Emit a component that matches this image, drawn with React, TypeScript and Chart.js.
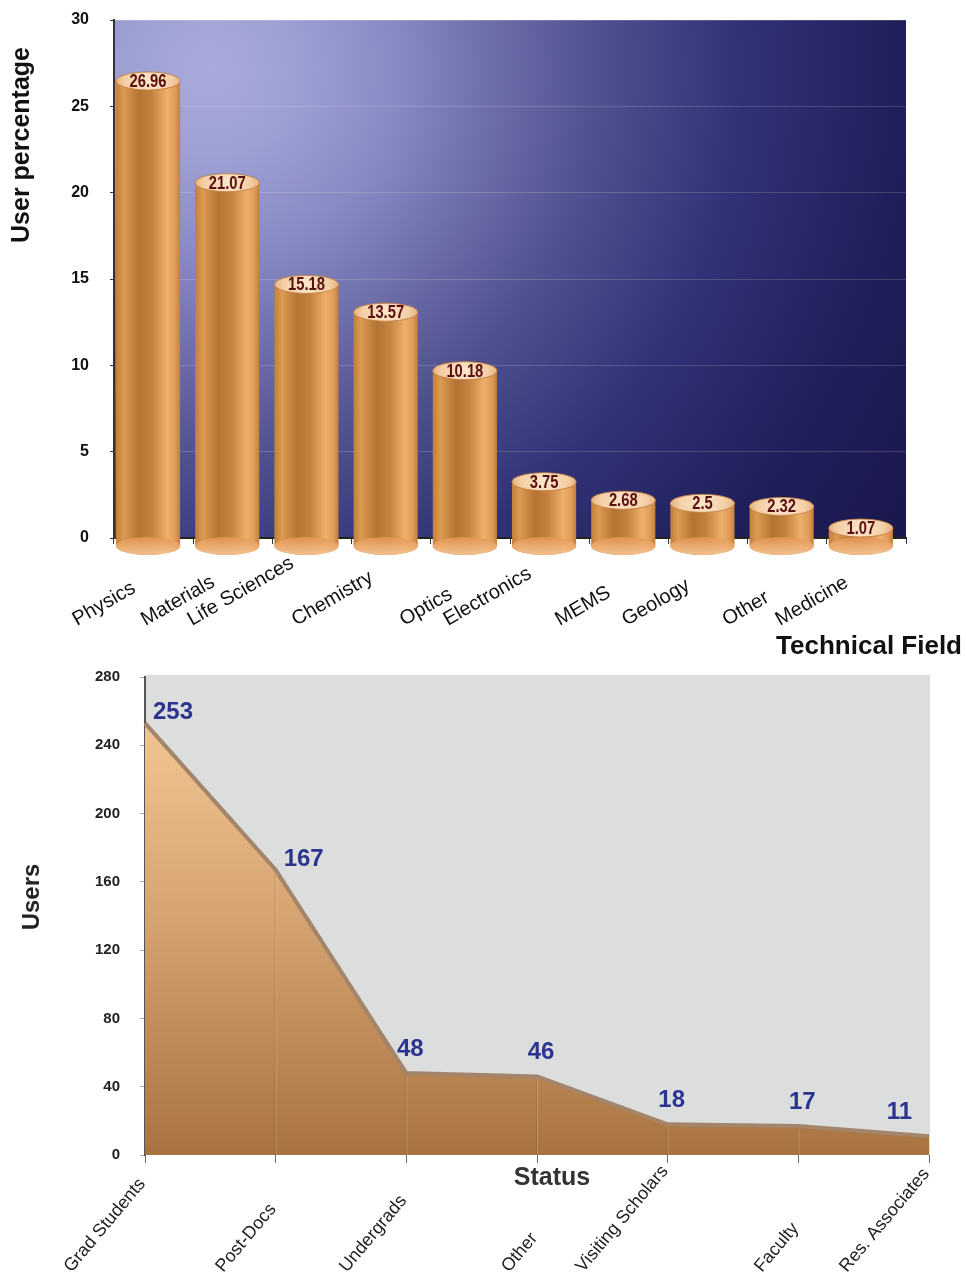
import React, { useEffect, useRef } from 'react';
import { Chart, registerables } from 'chart.js';

Chart.register(...registerables);

const FONT = '"Liberation Sans", Arial, Helvetica, sans-serif';

// ---- Top chart data ----
const fields = ['Physics', 'Materials', 'Life Sciences', 'Chemistry', 'Optics', 'Electronics', 'MEMS', 'Geology', 'Other', 'Medicine'];
const fieldPercent = [26.96, 21.07, 15.18, 13.57, 10.18, 3.75, 2.68, 2.5, 2.32, 1.07];
const percentTicks = [0, 5, 10, 15, 20, 25, 30];

// ---- Bottom chart data ----
const statuses = ['Grad Students', 'Post-Docs', 'Undergrads', 'Other', 'Visiting Scholars', 'Faculty', 'Res. Associates'];
const statusUsers = [253, 167, 48, 46, 18, 17, 11];
const userTicks = [0, 40, 80, 120, 160, 200, 240, 280];

const BAR_PCT = 0.81;

const topBgPlugin = {
  id: 'topBg',
  beforeDraw(chart: any) {
    const { ctx, chartArea } = chart;
    if (!chartArea) return;
    const { left, top, right, bottom } = chartArea;
    ctx.save();
    const g = ctx.createRadialGradient(left + 96, top + 50, 0, left + 96, top + 50, 860);
    g.addColorStop(0, '#a8abda');
    g.addColorStop(0.1, '#9da0d3');
    g.addColorStop(0.22, '#8789c3');
    g.addColorStop(0.45, '#50518f');
    g.addColorStop(0.62, '#313276');
    g.addColorStop(0.8, '#211f5b');
    g.addColorStop(1, '#19164a');
    ctx.fillStyle = g;
    ctx.fillRect(left, top, right - left, bottom - top);
    ctx.restore();
  },
};

const cylinderPlugin = {
  id: 'cylinders',
  afterDatasetsDraw(chart: any) {
    const { ctx } = chart;
    const meta = chart.getDatasetMeta(0);
    ctx.save();
    meta.data.forEach((el: any, i: number) => {
      const { x, y, base, width } = el.getProps(['x', 'y', 'base', 'width'], true);
      const slot = width / BAR_PCT;
      const cx = x - slot * 0.07;
      const w = width;
      const l = cx - w / 2;
      const r = cx + w / 2;
      const ry = 9;
      const topC = y + ry - 0.5;
      const botC = base + ry - 0.5;

      // body
      const g = ctx.createLinearGradient(l, 0, r, 0);
      g.addColorStop(0, '#c27e3a');
      g.addColorStop(0.12, '#dc9a52');
      g.addColorStop(0.36, '#b47433');
      g.addColorStop(0.56, '#c4823e');
      g.addColorStop(0.8, '#eeb06c');
      g.addColorStop(0.92, '#e09c58');
      g.addColorStop(1, '#c27e3b');
      ctx.fillStyle = g;
      ctx.beginPath();
      ctx.moveTo(l, topC);
      ctx.lineTo(l, botC);
      ctx.ellipse(cx, botC, w / 2, ry, 0, Math.PI, 0, true);
      ctx.lineTo(r, topC);
      ctx.closePath();
      ctx.fill();

      // bottom ellipse (lighter)
      const gb = ctx.createLinearGradient(0, botC - ry, 0, botC + ry);
      gb.addColorStop(0, 'rgba(228,150,82,0.85)');
      gb.addColorStop(1, 'rgba(246,196,146,0.95)');
      ctx.fillStyle = gb;
      ctx.beginPath();
      ctx.ellipse(cx, botC, w / 2, ry, 0, 0, Math.PI * 2);
      ctx.fill();

      // top ellipse
      const gt = ctx.createRadialGradient(cx, topC, 2, cx, topC, w / 2);
      gt.addColorStop(0, '#fbe4c8');
      gt.addColorStop(0.7, '#f3cfa6');
      gt.addColorStop(1, '#e6b482');
      ctx.fillStyle = gt;
      ctx.beginPath();
      ctx.ellipse(cx, topC, w / 2, ry, 0, 0, Math.PI * 2);
      ctx.fill();
      ctx.strokeStyle = 'rgba(196,128,66,0.9)';
      ctx.lineWidth = 1;
      ctx.stroke();

      // value label (condensed look)
      ctx.save();
      ctx.translate(cx, topC + 1);
      ctx.scale(0.82, 1);
      ctx.fillStyle = '#5a0f0f';
      ctx.font = `bold 18px ${FONT}`;
      ctx.textAlign = 'center';
      ctx.textBaseline = 'middle';
      ctx.fillText(String(fieldPercent[i]), 0, 0);
      ctx.restore();
    });
    ctx.restore();
  },
};

const topTextPlugin = {
  id: 'topText',
  afterDraw(chart: any) {
    const { ctx } = chart;
    const xs = chart.scales.x;
    const ang = Math.PI / 6;
    ctx.save();
    // category labels: start points share a common baseline
    ctx.font = `20px ${FONT}`;
    ctx.fillStyle = '#111';
    ctx.textAlign = 'left';
    ctx.textBaseline = 'alphabetic';
    fields.forEach((lab, i) => {
      const endX = xs.getPixelForTick(i) - 17;
      const wTxt = ctx.measureText(lab).width;
      const sx = endX - wTxt * Math.cos(ang);
      ctx.save();
      ctx.translate(sx, 626);
      ctx.rotate(-ang);
      ctx.fillText(lab, 0, 0);
      ctx.restore();
    });
    // y title
    ctx.save();
    ctx.translate(22, 145);
    ctx.rotate(-Math.PI / 2);
    ctx.font = `bold 25px ${FONT}`;
    ctx.textAlign = 'center';
    ctx.textBaseline = 'middle';
    ctx.fillStyle = '#111';
    ctx.fillText('User percentage', 0, 0);
    ctx.restore();
    // x title
    ctx.font = `bold 26px ${FONT}`;
    ctx.textAlign = 'right';
    ctx.textBaseline = 'middle';
    ctx.fillStyle = '#111';
    ctx.fillText('Technical Field', 962, 647);
    ctx.restore();
  },
};

const bottomBgPlugin = {
  id: 'bottomBg',
  beforeDraw(chart: any) {
    const { ctx, chartArea } = chart;
    if (!chartArea) return;
    const { left, top, right, bottom } = chartArea;
    ctx.save();
    ctx.fillStyle = '#dcdddd';
    ctx.fillRect(left, top - 2, right - left + 1, bottom - top + 2);
    ctx.restore();
  },
};

const bottomOverlayPlugin = {
  id: 'bottomOverlay',
  afterDatasetsDraw(chart: any) {
    const { ctx, chartArea } = chart;
    const meta = chart.getDatasetMeta(0);
    const n = meta.data.length;
    ctx.save();
    // separators inside the fill
    meta.data.forEach((pt: any, i: number) => {
      if (i === 0 || i === n - 1) return;
      ctx.lineWidth = 1;
      ctx.strokeStyle = 'rgba(120,78,36,0.25)';
      ctx.beginPath();
      ctx.moveTo(pt.x - 0.5, pt.y + 3);
      ctx.lineTo(pt.x - 0.5, chartArea.bottom);
      ctx.stroke();
      ctx.strokeStyle = 'rgba(255,228,196,0.25)';
      ctx.beginPath();
      ctx.moveTo(pt.x + 0.5, pt.y + 3);
      ctx.lineTo(pt.x + 0.5, chartArea.bottom);
      ctx.stroke();
    });
    // value labels
    ctx.fillStyle = '#2b3590';
    ctx.font = `bold 24px ${FONT}`;
    ctx.textBaseline = 'middle';
    meta.data.forEach((pt: any, i: number) => {
      if (i < 2) {
        ctx.textAlign = 'left';
        ctx.fillText(String(statusUsers[i]), pt.x + 8, pt.y - 11);
      } else if (i === n - 1) {
        ctx.textAlign = 'right';
        ctx.fillText(String(statusUsers[i]), pt.x - 17, pt.y - 24);
      } else {
        ctx.textAlign = 'center';
        ctx.fillText(String(statusUsers[i]), pt.x + 4, pt.y - 24);
      }
    });
    ctx.restore();
  },
  afterDraw(chart: any) {
    const { ctx } = chart;
    const xs = chart.scales.x;
    const ang = (50 * Math.PI) / 180;
    ctx.save();
    // category labels, bottom-aligned starts
    ctx.font = `18px ${FONT}`;
    ctx.fillStyle = '#222';
    ctx.textAlign = 'left';
    ctx.textBaseline = 'alphabetic';
    statuses.forEach((lab, i) => {
      const endX = xs.getPixelForTick(i) + 1;
      const wTxt = ctx.measureText(lab).width;
      const sx = endX - wTxt * Math.cos(ang);
      ctx.save();
      ctx.translate(sx, 613);
      ctx.rotate(-ang);
      ctx.fillText(lab, 0, 0);
      ctx.restore();
    });
    ctx.restore();

    ctx.save();
    ctx.translate(32, 237);
    ctx.rotate(-Math.PI / 2);
    ctx.font = `bold 24px ${FONT}`;
    ctx.textAlign = 'center';
    ctx.textBaseline = 'middle';
    ctx.fillStyle = '#222';
    ctx.fillText('Users', 0, 0);
    ctx.restore();
    ctx.save();
    ctx.font = `bold 25px ${FONT}`;
    ctx.textAlign = 'center';
    ctx.textBaseline = 'middle';
    ctx.fillStyle = '#333';
    ctx.fillText('Status', 552, 518);
    ctx.restore();
  },
};

function TopChart() {
  const ref = useRef<HTMLCanvasElement>(null);
  useEffect(() => {
    if (!ref.current) return;
    const chart = new Chart(ref.current, {
      type: 'bar',
      data: {
        labels: fields,
        datasets: [
          {
            data: fieldPercent,
            backgroundColor: 'rgba(0,0,0,0)',
            borderWidth: 0,
            barPercentage: BAR_PCT,
            categoryPercentage: 1,
          },
        ],
      },
      options: {
        responsive: false,
        animation: false,
        devicePixelRatio: 1,
        layout: { padding: { top: 20, right: 60, left: 0, bottom: 0 } },
        plugins: { legend: { display: false }, tooltip: { enabled: false }, title: { display: false } },
        scales: {
          x: {
            ticks: { display: false },
            grid: { offset: true, drawOnChartArea: false, tickLength: 6, tickColor: '#333', lineWidth: 1 },
            border: { color: '#222', width: 2 },
            afterFit: (s: any) => {
              s.height = 122;
            },
          },
          y: {
            min: 0,
            max: 30,
            afterBuildTicks: (s: any) => {
              s.ticks = percentTicks.map((v) => ({ value: v }));
            },
            ticks: { padding: 21, color: '#111', font: { family: FONT, size: 16, weight: 'bold' } },
            grid: { color: 'rgba(255,255,255,0.16)', tickColor: '#333', tickLength: 4, lineWidth: 1 },
            border: { color: '#333', width: 2 },
            afterFit: (s: any) => {
              s.width = 114;
              s.paddingTop = 0;
              s.paddingBottom = 0;
            },
          },
        },
      } as any,
      plugins: [topBgPlugin, cylinderPlugin, topTextPlugin],
    });
    return () => chart.destroy();
  }, []);
  return <canvas ref={ref} width={966} height={660} style={{ display: 'block', width: 966, height: 660 }} />;
}

function BottomChart() {
  const ref = useRef<HTMLCanvasElement>(null);
  useEffect(() => {
    if (!ref.current) return;
    const chart = new Chart(ref.current, {
      type: 'line',
      data: {
        labels: statuses,
        datasets: [
          {
            data: statusUsers,
            fill: 'origin',
            backgroundColor: (c: any) => {
              const area = c.chart.chartArea;
              if (!area) return '#d0a068';
              const g = c.chart.ctx.createLinearGradient(0, area.top, 0, area.bottom);
              g.addColorStop(0, '#f7cd9b');
              g.addColorStop(0.5, '#d6a470');
              g.addColorStop(1, '#a87341');
              return g;
            },
            borderColor: '#a2856a',
            borderWidth: 4,
            pointRadius: 0,
            tension: 0,
            borderJoinStyle: 'round',
          },
        ],
      },
      options: {
        responsive: false,
        animation: false,
        devicePixelRatio: 1,
        layout: { padding: { top: 17, right: 37, left: 0, bottom: 0 } },
        plugins: { legend: { display: false }, tooltip: { enabled: false }, title: { display: false } },
        scales: {
          x: {
            offset: false,
            ticks: { display: false, autoSkip: false },
            grid: { drawOnChartArea: false, tickLength: 8, tickColor: '#666' },
            border: { display: false },
            afterFit: (s: any) => {
              s.height = 122;
            },
          },
          y: {
            min: 0,
            max: 280,
            afterBuildTicks: (s: any) => {
              s.ticks = userTicks.map((v) => ({ value: v }));
            },
            ticks: { padding: 20, color: '#222', font: { family: FONT, size: 15, weight: 'bold' } },
            grid: { drawOnChartArea: false, tickLength: 5, tickColor: '#aaa' },
            border: { color: '#555', width: 2 },
            afterFit: (s: any) => {
              s.width = 145;
              s.paddingTop = 0;
              s.paddingBottom = 0;
            },
          },
        },
      } as any,
      plugins: [bottomBgPlugin, bottomOverlayPlugin],
    });
    return () => chart.destroy();
  }, []);
  return <canvas ref={ref} width={966} height={617} style={{ display: 'block', width: 966, height: 617 }} />;
}

export default function App() {
  return (
    <div style={{ position: 'absolute', left: 0, top: 0, width: 966, height: 1277, background: '#fff' }}>
      <TopChart />
      <BottomChart />
    </div>
  );
}
